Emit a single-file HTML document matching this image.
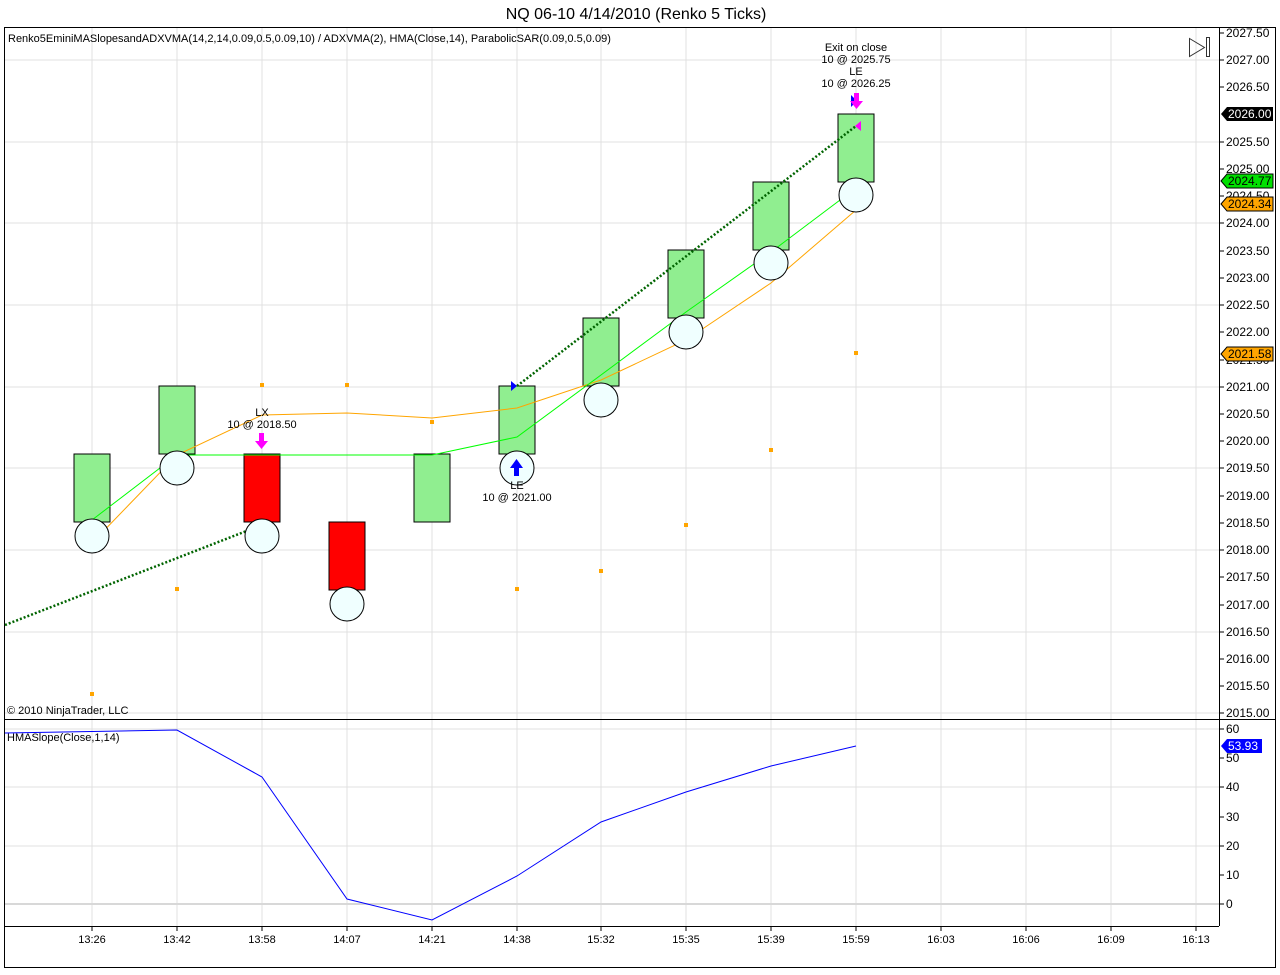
<!DOCTYPE html>
<html><head><meta charset="utf-8"><style>
body{margin:0;background:#fff;}
svg text{font-family:"Liberation Sans",sans-serif;}
</style></head><body>
<svg width="1280" height="970" xmlns="http://www.w3.org/2000/svg">
<rect width="1280" height="970" fill="#fff"/>
<text x="636" y="19" font-size="16" text-anchor="middle">NQ 06-10  4/14/2010 (Renko 5 Ticks)</text>
<rect x="4.5" y="27.5" width="1271" height="940" fill="none" stroke="#000"/>
<g stroke="#e0e0e0" stroke-width="1">
<line x1="92" y1="28" x2="92" y2="926"/><line x1="177" y1="28" x2="177" y2="926"/><line x1="262" y1="28" x2="262" y2="926"/><line x1="347" y1="28" x2="347" y2="926"/><line x1="432" y1="28" x2="432" y2="926"/><line x1="517" y1="28" x2="517" y2="926"/><line x1="601" y1="28" x2="601" y2="926"/><line x1="686" y1="28" x2="686" y2="926"/><line x1="771" y1="28" x2="771" y2="926"/><line x1="856" y1="28" x2="856" y2="926"/><line x1="941" y1="28" x2="941" y2="926"/><line x1="1026" y1="28" x2="1026" y2="926"/><line x1="1111" y1="28" x2="1111" y2="926"/><line x1="1196" y1="28" x2="1196" y2="926"/>
<line x1="5" y1="60" x2="1219" y2="60"/><line x1="5" y1="142" x2="1219" y2="142"/><line x1="5" y1="223" x2="1219" y2="223"/><line x1="5" y1="305" x2="1219" y2="305"/><line x1="5" y1="387" x2="1219" y2="387"/><line x1="5" y1="468" x2="1219" y2="468"/><line x1="5" y1="550" x2="1219" y2="550"/><line x1="5" y1="632" x2="1219" y2="632"/><line x1="5" y1="713" x2="1219" y2="713"/>
<line x1="5" y1="729" x2="1219" y2="729"/><line x1="5" y1="787" x2="1219" y2="787"/><line x1="5" y1="846" x2="1219" y2="846"/><line x1="5" y1="904" x2="1219" y2="904" stroke="#d8d8d8" stroke-width="2"/>
</g>
<line x1="1219.5" y1="28" x2="1219.5" y2="926" stroke="#000"/>
<line x1="5" y1="719.5" x2="1276" y2="719.5" stroke="#000"/>
<line x1="5" y1="926.5" x2="1219" y2="926.5" stroke="#000"/>
<g font-size="12" fill="#000">
<g stroke="#000">
<line x1="1219" y1="33" x2="1224" y2="33"/><line x1="1219" y1="60" x2="1224" y2="60"/><line x1="1219" y1="87" x2="1224" y2="87"/><line x1="1219" y1="142" x2="1224" y2="142"/><line x1="1219" y1="169" x2="1224" y2="169"/><line x1="1219" y1="196" x2="1224" y2="196"/><line x1="1219" y1="223" x2="1224" y2="223"/><line x1="1219" y1="251" x2="1224" y2="251"/><line x1="1219" y1="278" x2="1224" y2="278"/><line x1="1219" y1="305" x2="1224" y2="305"/><line x1="1219" y1="332" x2="1224" y2="332"/><line x1="1219" y1="360" x2="1224" y2="360"/><line x1="1219" y1="387" x2="1224" y2="387"/><line x1="1219" y1="414" x2="1224" y2="414"/><line x1="1219" y1="441" x2="1224" y2="441"/><line x1="1219" y1="468" x2="1224" y2="468"/><line x1="1219" y1="496" x2="1224" y2="496"/><line x1="1219" y1="523" x2="1224" y2="523"/><line x1="1219" y1="550" x2="1224" y2="550"/><line x1="1219" y1="577" x2="1224" y2="577"/><line x1="1219" y1="605" x2="1224" y2="605"/><line x1="1219" y1="632" x2="1224" y2="632"/><line x1="1219" y1="659" x2="1224" y2="659"/><line x1="1219" y1="686" x2="1224" y2="686"/><line x1="1219" y1="713" x2="1224" y2="713"/>
<line x1="1219" y1="729" x2="1224" y2="729"/><line x1="1219" y1="758" x2="1224" y2="758"/><line x1="1219" y1="787" x2="1224" y2="787"/><line x1="1219" y1="817" x2="1224" y2="817"/><line x1="1219" y1="846" x2="1224" y2="846"/><line x1="1219" y1="875" x2="1224" y2="875"/><line x1="1219" y1="904" x2="1224" y2="904"/>
</g>
<text x="1226" y="37">2027.50</text><text x="1226" y="64">2027.00</text><text x="1226" y="91">2026.50</text><text x="1226" y="146">2025.50</text><text x="1226" y="173">2025.00</text><text x="1226" y="200">2024.50</text><text x="1226" y="227">2024.00</text><text x="1226" y="255">2023.50</text><text x="1226" y="282">2023.00</text><text x="1226" y="309">2022.50</text><text x="1226" y="336">2022.00</text><text x="1226" y="364">2021.50</text><text x="1226" y="391">2021.00</text><text x="1226" y="418">2020.50</text><text x="1226" y="445">2020.00</text><text x="1226" y="472">2019.50</text><text x="1226" y="500">2019.00</text><text x="1226" y="527">2018.50</text><text x="1226" y="554">2018.00</text><text x="1226" y="581">2017.50</text><text x="1226" y="609">2017.00</text><text x="1226" y="636">2016.50</text><text x="1226" y="663">2016.00</text><text x="1226" y="690">2015.50</text><text x="1226" y="717">2015.00</text>
<text x="1226" y="733">60</text><text x="1226" y="762">50</text><text x="1226" y="791">40</text><text x="1226" y="821">30</text><text x="1226" y="850">20</text><text x="1226" y="879">10</text><text x="1226" y="908">0</text>
</g>
<path d="M1221,114 l6,-7 h46 v14 h-46z" fill="#000"/><text x="1228" y="118" font-size="12" fill="#fff">2026.00</text>
<path d="M1221,181 l6,-7 h46 v14 h-46z" fill="#00e000" stroke="#000"/><text x="1228" y="185" font-size="12">2024.77</text>
<path d="M1221,204 l6,-7 h46 v14 h-46z" fill="#ffa500" stroke="#000"/><text x="1228" y="208" font-size="12">2024.34</text>
<path d="M1221,354 l6,-7 h46 v14 h-46z" fill="#ffa500" stroke="#000"/><text x="1228" y="358" font-size="12">2021.58</text>
<path d="M1221,746 l6,-7 h35 v14 h-35z" fill="#0000ff"/><text x="1228" y="750" font-size="12" fill="#fff">53.93</text>
<g font-size="11" text-anchor="middle">
<g stroke="#000"><line x1="92" y1="926" x2="92" y2="931"/><line x1="177" y1="926" x2="177" y2="931"/><line x1="262" y1="926" x2="262" y2="931"/><line x1="347" y1="926" x2="347" y2="931"/><line x1="432" y1="926" x2="432" y2="931"/><line x1="517" y1="926" x2="517" y2="931"/><line x1="601" y1="926" x2="601" y2="931"/><line x1="686" y1="926" x2="686" y2="931"/><line x1="771" y1="926" x2="771" y2="931"/><line x1="856" y1="926" x2="856" y2="931"/><line x1="941" y1="926" x2="941" y2="931"/><line x1="1026" y1="926" x2="1026" y2="931"/><line x1="1111" y1="926" x2="1111" y2="931"/><line x1="1196" y1="926" x2="1196" y2="931"/></g>
<text x="92" y="943">13:26</text><text x="177" y="943">13:42</text><text x="262" y="943">13:58</text><text x="347" y="943">14:07</text><text x="432" y="943">14:21</text><text x="517" y="943">14:38</text><text x="601" y="943">15:32</text><text x="686" y="943">15:35</text><text x="771" y="943">15:39</text><text x="856" y="943">15:59</text><text x="941" y="943">16:03</text><text x="1026" y="943">16:06</text><text x="1111" y="943">16:09</text><text x="1196" y="943">16:13</text>
</g>
<g stroke="#000" stroke-width="1">
<rect x="74" y="454" width="36" height="68" fill="#90ee90"/>
<rect x="159" y="386" width="36" height="68" fill="#90ee90"/>
<rect x="244" y="454" width="36" height="68" fill="#ff0000"/>
<rect x="329" y="522" width="36" height="68" fill="#ff0000"/>
<rect x="414" y="454" width="36" height="68" fill="#90ee90"/>
<rect x="499" y="386" width="36" height="68" fill="#90ee90"/>
<rect x="583" y="318" width="36" height="68" fill="#90ee90"/>
<rect x="668" y="250" width="36" height="68" fill="#90ee90"/>
<rect x="753" y="182" width="36" height="68" fill="#90ee90"/>
<rect x="838" y="114" width="36" height="68" fill="#90ee90"/>
</g>
<polyline points="92,543 177,455 262,415 347,413 432,418 517,408 601,380 686,340 771,283 856,210" fill="none" stroke="#ffa500"/>
<polyline points="92,520 177,455 262,455 347,455 432,455 517,437 601,375 686,312 771,252 856,188" fill="none" stroke="#00ff00"/>
<line x1="5" y1="625" x2="262" y2="525" stroke="#006400" stroke-width="2.5" stroke-dasharray="2,2"/>
<line x1="517" y1="386" x2="856" y2="126" stroke="#006400" stroke-width="2.5" stroke-dasharray="2,2"/>
<g fill="#f0ffff" stroke="#000">
<circle cx="92" cy="536" r="17"/><circle cx="177" cy="468" r="17"/><circle cx="262" cy="536" r="17"/><circle cx="347" cy="604" r="17"/><circle cx="517" cy="468" r="17"/><circle cx="601" cy="400" r="17"/><circle cx="686" cy="332" r="17"/><circle cx="771" cy="263" r="17"/><circle cx="856" cy="195" r="17"/>
</g>
<g fill="#ffa500">
<rect x="90" y="692" width="4" height="4"/><rect x="175" y="587" width="4" height="4"/><rect x="260" y="383" width="4" height="4"/><rect x="345" y="383" width="4" height="4"/><rect x="430" y="420" width="4" height="4"/><rect x="515" y="587" width="4" height="4"/><rect x="599" y="569" width="4" height="4"/><rect x="684" y="523" width="4" height="4"/><rect x="769" y="448" width="4" height="4"/><rect x="854" y="351" width="4" height="4"/>
</g>
<path d="M259,433 h5 v8 h4 l-6.5,8 l-6.5,-8 h4z" fill="#ff00ff"/>
<path d="M514,476 h5 v-8 h4 l-6.5,-9 l-6.5,9 h4z" fill="#0000ff"/>
<path d="M511,381 l6,5 l-6,5z" fill="#0000ff"/>
<path d="M851,95 l6,6 l-6,6z" fill="#0000ff"/>
<path d="M854,93 h5 v8 h4 l-6.5,8 l-6.5,-8 h4z" fill="#ff00ff"/>
<path d="M861,121 l-6,5 l6,5z" fill="#ff00ff"/>
<g font-size="11" text-anchor="middle">
<text x="262" y="416">LX</text><text x="262" y="428">10 @ 2018.50</text>
<text x="517" y="489">LE</text><text x="517" y="501">10 @ 2021.00</text>
<text x="856" y="51">Exit on close</text><text x="856" y="63">10 @ 2025.75</text><text x="856" y="75">LE</text><text x="856" y="87">10 @ 2026.25</text>
</g>
<polyline points="5,733 177,730 262,777 347,899 432,920 517,876 601,822 686,792 771,766 856,746" fill="none" stroke="#0000ff"/>
<text x="8" y="42" font-size="11">Renko5EminiMASlopesandADXVMA(14,2,14,0.09,0.5,0.09,10) / ADXVMA(2), HMA(Close,14), ParabolicSAR(0.09,0.5,0.09)</text>
<text x="7" y="714" font-size="11">© 2010 NinjaTrader, LLC</text>
<text x="7" y="741" font-size="11">HMASlope(Close,1,14)</text>
<path d="M1189.5,38.5 l15,9 l-15,9z" fill="none" stroke="#333"/>
<rect x="1206.5" y="37.5" width="3" height="19" fill="none" stroke="#333"/>
</svg>
</body></html>
